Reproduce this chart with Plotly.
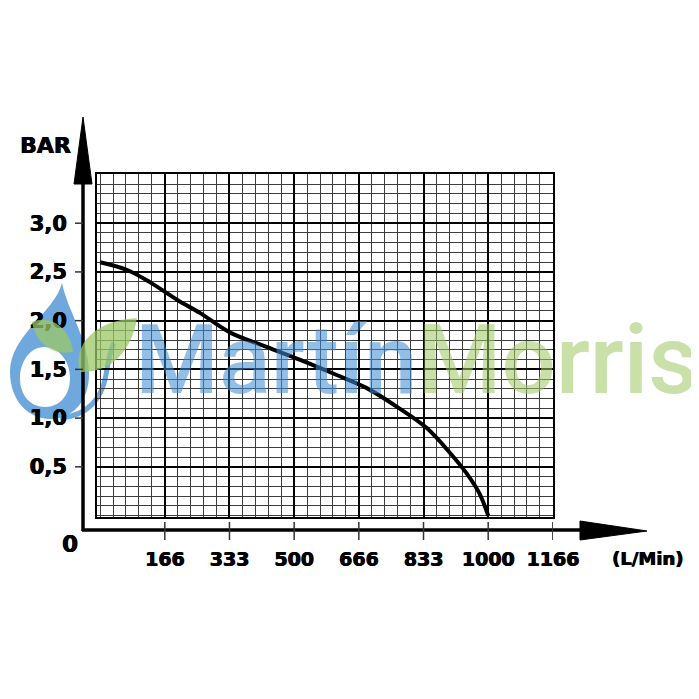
import plotly.graph_objects as go

# pump curve (flow in L/min, pressure in bar)
FLOW = [0, 70, 130, 200, 257, 334, 429, 514, 599, 686, 771, 841, 900, 943, 977, 1000]
PRESSURE = [2.60, 2.52, 2.39, 2.21, 2.08, 1.88, 1.73, 1.60, 1.46, 1.31, 1.10, 0.90, 0.65, 0.44, 0.23, 0.0]

X_TICKS = [166.67, 333.33, 500, 666.67, 833.33, 1000, 1166.67]
X_LABELS = ["166", "333", "500", "666", "833", "1000", "1166"]
Y_TICKS = [0.5, 1.0, 1.5, 2.0, 2.5, 3.0]
Y_LABELS = ["0,5", "1,0", "1,5", "2,0", "2,5", "3,0"]

# page has an 8px body margin, so the figure is 691 wide and sits at (8, 8)
OFF = 8
SIZE = 699 - OFF
# plot box in page pixels
L, R, T, B = 97, 553, 174, 517
W, H = R - L, B - T

def px(x):
    return (x - L) / W

def py(y):
    return (B - y) / H

def pt(p):
    return f"{px(p[0]):.4f},{py(p[1]):.4f}"

def path(points):
    return "M " + " L ".join(pt(p) for p in points) + " Z"

def bezier(start, segs, close=False):
    # segs: list of (ctrl1, ctrl2, end) in page pixels
    s = "M " + pt(start)
    for c1, c2, e in segs:
        s += f" C {pt(c1)} {pt(c2)} {pt(e)}"
    return s + (" Z" if close else "")

BOLD = "DejaVu Sans"
# a thin shadow makes the bold labels look heavier, like the scanned original
HEAVY = "0.6px 0px 0px black, -0.3px 0px 0px black"

def label_font(size):
    return dict(family=BOLD, size=size, color="black", weight="bold", shadow=HEAVY)

fig = go.Figure()
fig.add_trace(go.Scatter(
    x=FLOW, y=PRESSURE, mode="lines",
    line=dict(color="black", width=4, shape="spline", smoothing=1.0),
    hoverinfo="skip", showlegend=False,
))

fig.update_layout(
    width=SIZE, height=SIZE,
    margin=dict(l=L - OFF, r=699 - R, t=T - OFF, b=699 - B, pad=0),
    paper_bgcolor="white", plot_bgcolor="white",
    showlegend=False,
)

fig.update_xaxes(
    range=[-8, 1167], tickmode="array", tickvals=X_TICKS, ticktext=X_LABELS,
    showgrid=True, gridcolor="black", gridwidth=2.4, zeroline=False,
    showline=True, mirror=True, linecolor="black", linewidth=2,
    ticks="", ticklabelstandoff=24,
    tickfont=label_font(19),
    minor=dict(tickmode="linear", tick0=0, dtick=33.333, showgrid=True,
               gridcolor="#3c3c3c", gridwidth=1.2, ticks=""),
)
fig.update_yaxes(
    range=[-0.015, 3.505], tickmode="array", tickvals=Y_TICKS, ticktext=Y_LABELS,
    showgrid=True, gridcolor="black", gridwidth=2.4, zeroline=False,
    showline=True, mirror=True, linecolor="black", linewidth=2,
    ticks="", ticklabelstandoff=24,
    tickfont=label_font(21),
    minor=dict(tickmode="linear", tick0=0, dtick=0.1, showgrid=True,
               gridcolor="#3c3c3c", gridwidth=1.2, ticks=""),
)

shapes = []
# logo: drop ring, tail and two leaves
BLUE_LOGO = "rgba(111,168,220,1)"
GREEN_LOGO = "rgba(155,200,101,0.75)"
drop = bezier((62, 283), [
    ((55, 312), (10, 335), (10, 372)),
    ((10, 400), (28, 419), (50, 419)),
    ((74, 419), (89, 400), (89, 374)),
    ((89, 340), (68, 312), (62, 283)),
], close=True) + " " + bezier((44, 347), [
    ((30, 347), (20, 362), (20, 378)),
    ((20, 396), (31, 407), (45, 407)),
    ((60, 407), (70, 395), (70, 378)),
    ((70, 360), (58, 347), (44, 347)),
], close=True)
shapes.append(dict(type="path", xref="paper", yref="paper", path=drop, layer="below",
                   fillcolor=BLUE_LOGO, fillrule="evenodd", line=dict(width=0)))
tail = bezier((60, 418), [((88, 416), (102, 398), (106, 375)),
                          ((108, 362), (110, 350), (114, 343))])
shapes.append(dict(type="path", xref="paper", yref="paper", path=tail, layer="below",
                   line=dict(color=BLUE_LOGO, width=5)))
stem = bezier((50, 334), [((62, 340), (75, 346), (84, 356))])
shapes.append(dict(type="path", xref="paper", yref="paper", path=stem, layer="below",
                   line=dict(color=BLUE_LOGO, width=3)))
leaf1 = bezier((32, 322), [
    ((50, 314), (70, 328), (73, 352)),
    ((55, 356), (36, 345), (32, 322)),
], close=True)
shapes.append(dict(type="path", xref="paper", yref="paper", path=leaf1,
                   fillcolor=GREEN_LOGO, line=dict(width=0)))
leaf2 = bezier((137, 318), [
    ((132, 350), (112, 373), (80, 372)),
    ((72, 345), (95, 320), (137, 318)),
], close=True)
shapes.append(dict(type="path", xref="paper", yref="paper", path=leaf2,
                   fillcolor=GREEN_LOGO, line=dict(width=0)))

# offset axes with arrow heads
shapes.append(dict(type="line", xref="paper", yref="paper",
                   x0=px(83), x1=px(83), y0=py(531), y1=py(150),
                   line=dict(color="black", width=3.5), layer="below"))
shapes.append(dict(type="path", xref="paper", yref="paper",
                   path=path([(74, 184), (92, 184), (83, 117)]),
                   fillcolor="black", line=dict(color="black", width=1)))
shapes.append(dict(type="line", xref="paper", yref="paper",
                   x0=px(82), x1=px(600), y0=py(530), y1=py(530),
                   line=dict(color="black", width=3.5)))
shapes.append(dict(type="path", xref="paper", yref="paper",
                   path=path([(580, 521), (580, 540), (647, 531)]),
                   fillcolor="black", line=dict(color="black", width=1)))
for xv in X_TICKS:
    shapes.append(dict(type="line", xref="x", yref="paper",
                       x0=xv, x1=xv, y0=py(522), y1=py(540),
                       line=dict(color="#333333", width=1.5)))
for yv in Y_TICKS:
    shapes.append(dict(type="line", xref="paper", yref="y",
                       x0=px(75), x1=px(83), y0=yv, y1=yv,
                       line=dict(color="#333333", width=1.5)))
fig.update_layout(shapes=shapes)

annotations = [
    dict(text="BAR", x=px(45), y=py(146), xref="paper", yref="paper",
         xanchor="center", yanchor="middle", showarrow=False, font=label_font(22)),
    dict(text="0", x=px(70), y=py(544), xref="paper", yref="paper",
         xanchor="center", yanchor="middle", showarrow=False, font=label_font(23)),
    dict(text="(L/Min)", x=px(647), y=py(558), xref="paper", yref="paper",
         xanchor="center", yanchor="middle", showarrow=False, font=label_font(18)),
    dict(text="<span style='color:rgba(63,139,208,0.75)'>Martín</span>"
              "<span style='color:rgba(159,201,101,0.75)'>Morris</span>",
         x=px(133), y=py(360), xref="paper", yref="paper", xanchor="left", yanchor="middle",
         showarrow=False,
         font=dict(family="Roboto", size=96, weight=500, color="rgba(63,139,208,0.75)")),
]
fig.update_layout(annotations=annotations)

fig.write_html("out.html")
